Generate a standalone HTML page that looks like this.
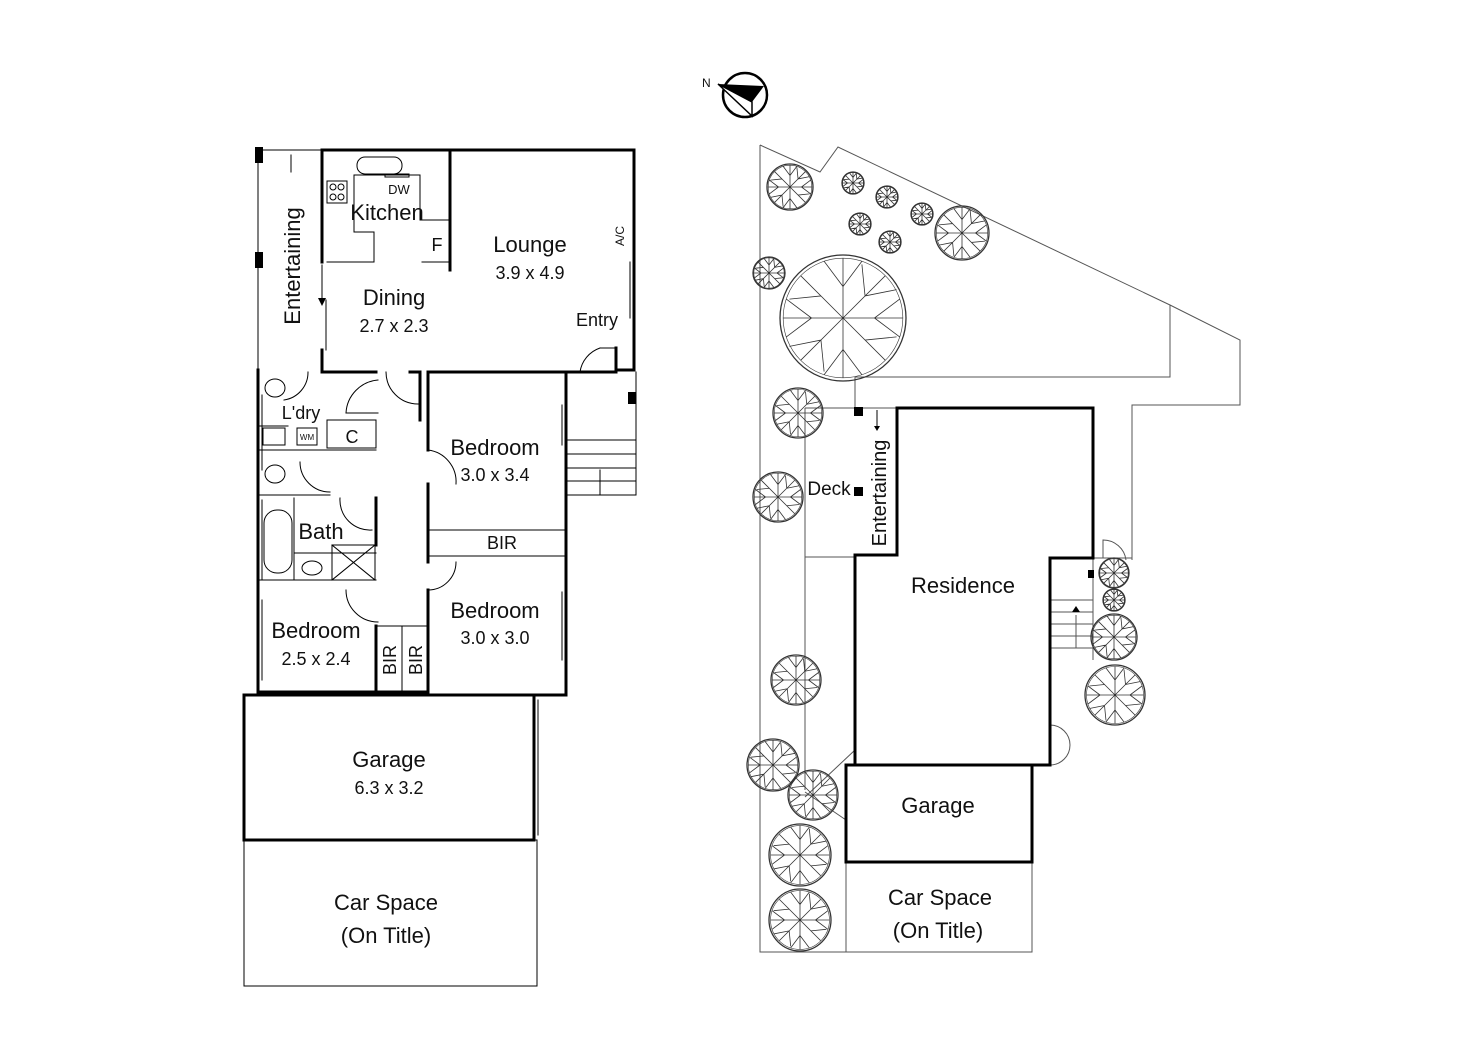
<!DOCTYPE html>
<html><head><meta charset="utf-8"><style>
html,body{margin:0;padding:0;background:#fff}
svg{display:block}
text{font-family:"Liberation Sans",Arial,sans-serif;fill:#111}
</style></head><body>
<svg width="1472" height="1040" viewBox="0 0 1472 1040" xmlns="http://www.w3.org/2000/svg">
<defs>
<g id="tree" fill="none" stroke="#333">
<circle r="1" vector-effect="non-scaling-stroke" stroke-width="1.3"/>
<circle r="0.95" vector-effect="non-scaling-stroke" stroke-width="0.6"/>
<path vector-effect="non-scaling-stroke" stroke-width="0.8" d="M0 0L0 -0.95M0 0L0.67 -0.67M0 0L0.95 0M0 0L0.67 0.67M0 0L0 0.95M0 0L-0.67 0.67M0 0L-0.95 0M0 0L-0.67 -0.67M0 -0.5L-0.3 -0.9M0 -0.5L0.3 -0.9M0.5 0L0.9 -0.3M0.5 0L0.9 0.3M0 0.5L0.3 0.9M0 0.5L-0.3 0.9M-0.5 0L-0.9 0.3M-0.5 0L-0.9 -0.3M0.35 -0.35L0.3 -0.85M0.35 0.35L0.85 0.3M-0.35 0.35L-0.3 0.85M-0.35 -0.35L-0.85 -0.3M0.35 -0.35L0.85 -0.45M-0.35 0.35L-0.85 0.45"/>
</g>
</defs>

<!-- compass -->
<circle cx="745" cy="95" r="22" fill="none" stroke="#000" stroke-width="2.5"/>
<polygon points="718,84 764,86 752,102" fill="#000"/>
<polygon points="718,84 752,102 752,116" fill="#fff" stroke="#000" stroke-width="1.5"/>
<text x="702" y="87" font-size="12">N</text>

<!-- ========== LEFT PLAN ========== -->
<g fill="none" stroke="#000" stroke-linecap="square">
<g stroke-width="1">
<line x1="258" y1="150" x2="322" y2="150"/>
<line x1="258" y1="150" x2="258" y2="370"/>
<rect x="244" y="840" width="293" height="146"/>
<line x1="566" y1="440" x2="636" y2="440"/>
<line x1="636" y1="372" x2="636" y2="495"/>
<line x1="566" y1="495" x2="636" y2="495"/>
<line x1="566" y1="454" x2="636" y2="454"/>
<line x1="566" y1="468" x2="636" y2="468"/>
<line x1="566" y1="481" x2="636" y2="481"/>
<line x1="600" y1="470" x2="600" y2="495"/>
<line x1="291" y1="155" x2="291" y2="172"/>
<path d="M354 175 L420 175 L420 220 L450 220 M354 175 L354 232 L374 232 L374 262 L327 262"/>
<path d="M422 262 L450 262"/>
<rect x="327" y="181" width="20" height="22"/>
<circle cx="333" cy="187" r="3"/><circle cx="341" cy="187" r="3"/><circle cx="333" cy="197" r="3"/><circle cx="341" cy="197" r="3"/>
<rect x="357" y="157" width="45" height="17" rx="8"/>
<rect x="385" y="174" width="24" height="3"/>
<line x1="258" y1="450" x2="376" y2="450"/>
<line x1="258" y1="495" x2="330" y2="495"/>
<rect x="263" y="428" width="22" height="17"/>
<rect x="297" y="428" width="20" height="17"/>
<path d="M327 420 L376 420 L376 448 L327 448Z"/>
<path d="M258 426 L288 426"/>
<ellipse cx="275" cy="388" rx="10" ry="9"/>
<ellipse cx="275" cy="474" rx="10" ry="9"/>
<rect x="264" y="510" width="28" height="63" rx="13"/>
<line x1="258" y1="580" x2="376" y2="580"/>
<line x1="294" y1="498" x2="294" y2="580"/>
<line x1="294" y1="553" x2="376" y2="553"/>
<rect x="332" y="545" width="43" height="35"/>
<line x1="332" y1="545" x2="375" y2="580"/><line x1="375" y1="545" x2="332" y2="580"/>
<ellipse cx="312" cy="568" rx="10" ry="7"/>
<line x1="376" y1="626" x2="428" y2="626"/>
<line x1="402" y1="626" x2="402" y2="692"/>
<line x1="428" y1="556" x2="566" y2="556"/>
<line x1="428" y1="530" x2="566" y2="530"/>
<path d="M346 413 A35 35 0 0 1 378 380"/>
<path d="M346 413 L378 413"/>
<path d="M386 372 A32 32 0 0 0 418 404"/>
<path d="M308 372 A28 28 0 0 1 284 400"/>
<path d="M300 462 A30 30 0 0 0 330 492"/>
<path d="M340 498 A30 30 0 0 0 372 530"/>
<path d="M428 450 A32 32 0 0 1 456 484"/>
<path d="M428 590 A28 28 0 0 0 456 562"/>
<path d="M346 590 A32 32 0 0 0 378 622"/>
<path d="M600 348 A30 30 0 0 0 580 372"/>
<line x1="616" y1="348" x2="600" y2="348"/>
</g>
<g stroke-width="3">
<path d="M258 370 L258 692 L376 692"/>
<path d="M322 262 L322 150 L634 150 L634 370 L616 370 L616 348"/>
<path d="M322 350 L322 372 L376 372"/>
<path d="M410 372 L420 372 L420 420"/>
<path d="M428 372 L566 372 L566 695 L428 695"/>
<line x1="566" y1="372" x2="616" y2="372"/>
<path d="M428 372 L428 450 M428 484 L428 562 M428 590 L428 695"/>
<path d="M376 626 L376 692"/>
<path d="M376 498 L376 545"/>
<line x1="450" y1="150" x2="450" y2="270"/>
<rect x="244" y="695" width="290" height="145"/>
<line x1="376" y1="692" x2="428" y2="692"/>
</g>
<g stroke-width="1">
<line x1="538" y1="700" x2="538" y2="835"/>
<line x1="326" y1="300" x2="326" y2="350"/>
<line x1="630" y1="262" x2="630" y2="318"/>
<line x1="562" y1="405" x2="562" y2="445"/>
<line x1="562" y1="592" x2="562" y2="660"/>
<line x1="262" y1="395" x2="262" y2="470"/>
<line x1="262" y1="500" x2="262" y2="580"/>
<line x1="262" y1="600" x2="262" y2="680"/>
<line x1="322" y1="265" x2="322" y2="300"/>
</g>
</g>
<rect x="255" y="147" width="8" height="16" fill="#000"/>
<rect x="255" y="252" width="8" height="16" fill="#000"/>
<rect x="628" y="392" width="8" height="12" fill="#000"/>
<polygon points="318,298 326,298 322,306" fill="#000"/>

<g font-size="22" text-anchor="middle">
<text x="387" y="220">Kitchen</text>
<text x="530" y="252">Lounge</text>
<text x="394" y="305">Dining</text>
<text x="495" y="455">Bedroom</text>
<text x="495" y="618">Bedroom</text>
<text x="316" y="638">Bedroom</text>
<text x="321" y="539">Bath</text>
<text x="389" y="767">Garage</text>
<text x="386" y="910">Car Space</text>
<text x="386" y="943">(On Title)</text>
<text transform="translate(300,266) rotate(-90)" x="0" y="0">Entertaining</text>
</g>
<g font-size="18" text-anchor="middle">
<text x="530" y="279">3.9 x 4.9</text>
<text x="394" y="332">2.7 x 2.3</text>
<text x="495" y="481">3.0 x 3.4</text>
<text x="495" y="644">3.0 x 3.0</text>
<text x="316" y="665">2.5 x 2.4</text>
<text x="389" y="794">6.3 x 3.2</text>
<text x="597" y="326">Entry</text>
<text x="301" y="419">L'dry</text>
<text x="352" y="443">C</text>
<text x="437" y="251">F</text>
<text x="502" y="549">BIR</text>
<text transform="translate(396,660) rotate(-90)" x="0" y="0">BIR</text>
<text transform="translate(422,660) rotate(-90)" x="0" y="0">BIR</text>
</g>
<text x="399" y="194" font-size="13" text-anchor="middle">DW</text>
<text x="307" y="440" font-size="8" text-anchor="middle">WM</text>
<text transform="translate(624,236) rotate(-90)" font-size="12" text-anchor="middle">A/C</text>

<!-- ========== RIGHT PLAN ========== -->
<g fill="none" stroke="#555" stroke-width="1">
<path d="M760 145 L820 172 L838 147 L1170 305 L1240 340 L1240 405 L1132 405 L1132 560"/>
<path d="M760 145 L760 952 L1032 952 L1032 862"/>
<path d="M846 862 L846 952"/>
<path d="M855 377 L1170 377 L1170 305"/>
<path d="M855 377 L855 408"/>
<path d="M805 408 L855 408 M805 408 L805 790 M805 557 L855 557"/>
<path d="M805 797 L855 750 M805 792 L846 820"/>
<path d="M1093 558 L1132 558 M1093 558 L1093 660"/>
<path d="M1050 600 L1093 600 M1050 612 L1093 612 M1050 624 L1093 624 M1050 636 L1093 636 M1050 648 L1093 648"/>
<path d="M1076 615 L1076 648"/>
<path d="M1103 558 L1103 540 A23 23 0 0 1 1126 560"/>
<path d="M1050 725 A20 20 0 0 1 1050 765"/>
<path d="M855 408 L897 408"/>
</g>
<polygon points="1072,612 1080,612 1076,606" fill="#000"/>
<g fill="none" stroke="#000" stroke-width="3">
<path d="M897 555 L897 408 L1093 408 L1093 558 L1050 558 L1050 765 L855 765 L855 555 Z"/>
<rect x="846" y="765" width="186" height="97"/>
</g>
<line x1="877" y1="410" x2="877" y2="428" stroke="#000"/>
<polygon points="874,426 880,426 877,431" fill="#000"/>
<rect x="854" y="407" width="9" height="9" fill="#000"/>
<rect x="854" y="487" width="9" height="9" fill="#000"/>
<rect x="1088" y="570" width="6" height="8" fill="#000"/>

<g font-size="22" text-anchor="middle">
<text x="963" y="593">Residence</text>
<text x="938" y="813">Garage</text>
<text x="940" y="905">Car Space</text>
<text x="938" y="938">(On Title)</text>
</g>
<text x="829" y="495" font-size="19" text-anchor="middle">Deck</text>
<text transform="translate(886,493) rotate(-90)" font-size="20" text-anchor="middle">Entertaining</text>

<g>
<use href="#tree" transform="translate(790,187) scale(23)"/>
<use href="#tree" transform="translate(853,183) scale(11)"/>
<use href="#tree" transform="translate(887,197) scale(11)"/>
<use href="#tree" transform="translate(860,224) scale(11)"/>
<use href="#tree" transform="translate(922,214) scale(11)"/>
<use href="#tree" transform="translate(890,242) scale(11)"/>
<use href="#tree" transform="translate(962,233) scale(27)"/>
<use href="#tree" transform="translate(769,273) scale(16)"/>
<use href="#tree" transform="translate(843,318) scale(63)" stroke="#000"/>
<use href="#tree" transform="translate(798,413) scale(25)"/>
<use href="#tree" transform="translate(778,497) scale(25)"/>
<use href="#tree" transform="translate(796,680) scale(25)"/>
<use href="#tree" transform="translate(773,765) scale(26)"/>
<use href="#tree" transform="translate(813,795) scale(25)"/>
<use href="#tree" transform="translate(800,855) scale(31)"/>
<use href="#tree" transform="translate(800,920) scale(31)"/>
<use href="#tree" transform="translate(1114,573) scale(15)"/>
<use href="#tree" transform="translate(1114,600) scale(11)"/>
<use href="#tree" transform="translate(1114,637) scale(23)"/>
<use href="#tree" transform="translate(1115,695) scale(30)"/>
</g>
</svg>
</body></html>
